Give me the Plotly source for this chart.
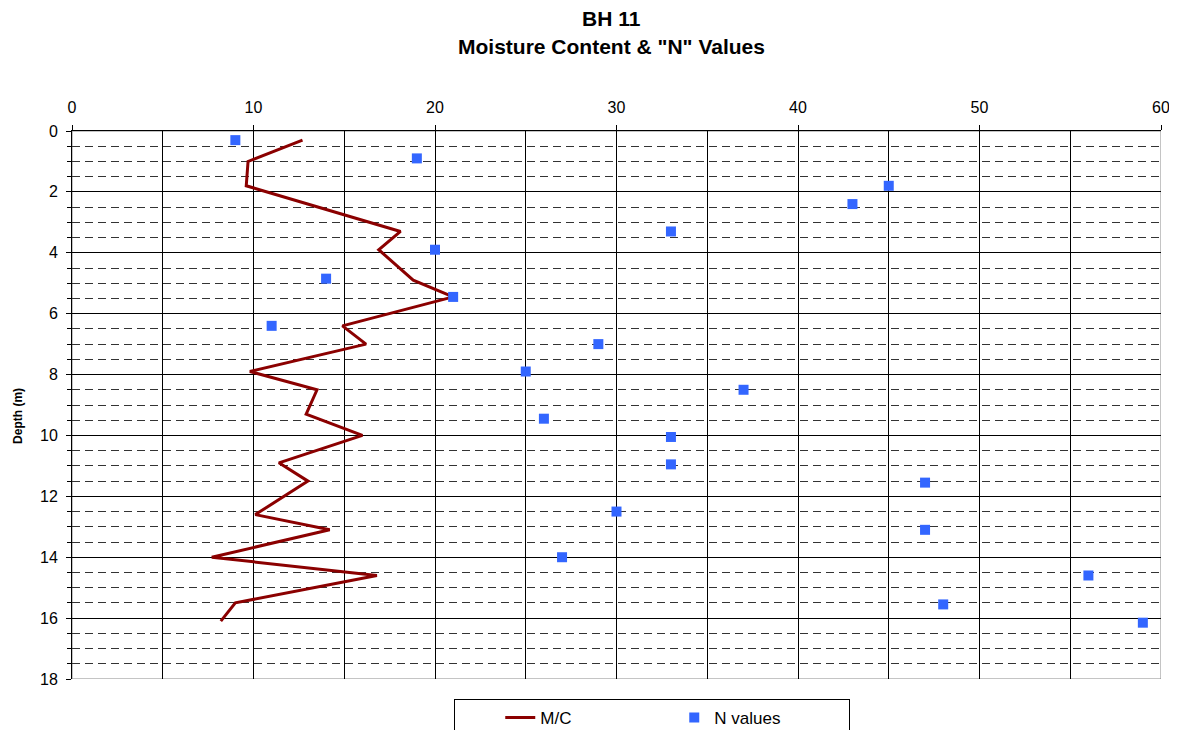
import plotly.graph_objects as go

# Moisture content (M/C) profile
mc_depth = [0.3, 1.0, 1.8, 3.3, 3.9, 4.9, 5.45, 6.4, 7.0, 7.9, 8.5, 9.3, 10.0,
            10.9, 11.5, 12.6, 13.1, 14.0, 14.6, 15.5, 16.1]
mc_value = [12.7, 9.7, 9.6, 18.1, 16.9, 18.8, 21.0, 14.9, 16.2, 9.8, 13.5, 12.9, 16.0,
            11.4, 13.0, 10.1, 14.2, 7.7, 16.8, 9.0, 8.2]

# SPT "N" values
n_depth = [0.3, 0.9, 1.8, 2.4, 3.3, 3.9, 4.85, 5.45, 6.4, 7.0, 7.9, 8.5, 9.45, 10.05,
           10.95, 11.55, 12.5, 13.1, 14.0, 14.6, 15.55, 16.15]
n_value = [9, 19, 45, 43, 33, 20, 14, 21, 11, 29, 25, 37, 26, 33,
           33, 47, 30, 47, 27, 56, 48, 59]

title_line1 = "BH 11"
title_line2 = 'Moisture Content & "N" Values'
y_title = "Depth (m)"

FONT = "Liberation Sans, Arial, sans-serif"

fig = go.Figure()
fig.add_trace(go.Scatter(x=mc_value, y=mc_depth, mode="lines", name="M/C",
                         line=dict(color="#8B0000", width=3)))
fig.add_trace(go.Scatter(x=n_value, y=n_depth, mode="markers", name="N values",
                         marker=dict(symbol="square", size=10, color="#3366FF")))

fig.add_shape(type="rect", xref="x", yref="y", x0=0, x1=60, y0=0, y1=18,
              line=dict(color="#888888", width=1), layer="below")

fig.update_layout(
    width=1169, height=722,
    margin=dict(l=64, r=16, t=123, b=51, autoexpand=False),
    paper_bgcolor="white", plot_bgcolor="white",
    font=dict(family=FONT, size=16, color="black"),
    showlegend=True,
    legend=dict(orientation="h", x=0.351, xanchor="left",
                yref="container", y=0.043, yanchor="top",
                bordercolor="black", borderwidth=1, bgcolor="white",
                font=dict(family=FONT, size=17), entrywidth=129,
                title=dict(text="\u00a0" * 7, font=dict(family=FONT, size=18))),
    annotations=[
        dict(text="<b>" + title_line1 + "</b>", x=0.495, xref="paper", y=1.2044, yref="paper",
             showarrow=False, font=dict(family=FONT, size=21), yanchor="middle"),
        dict(text="<b>" + title_line2 + "</b>", x=0.495, xref="paper", y=1.1542, yref="paper",
             showarrow=False, font=dict(family=FONT, size=21), yanchor="middle"),
        dict(text="<b>" + y_title + "</b>", x=-0.0496, xref="paper", y=0.48, yref="paper",
             textangle=-90, showarrow=False, font=dict(family=FONT, size=12),
             xanchor="center", yanchor="middle"),
    ],
)

fig.update_xaxes(side="top", range=[0, 60], dtick=10, tick0=0, automargin=False,
                 showgrid=True, gridcolor="black", gridwidth=1,
                 showline=True, linecolor="black", linewidth=1,
                 ticks="outside", ticklen=5, tickcolor="black", ticklabelstandoff=6,
                 tickfont=dict(size=16),
                 zeroline=False,
                 minor=dict(dtick=5, showgrid=True, gridcolor="black", gridwidth=1))
fig.update_yaxes(range=[18, 0], dtick=2, tick0=0, automargin=False,
                 showgrid=True, gridcolor="black", gridwidth=1,
                 showline=True, linecolor="black", linewidth=1,
                 ticks="outside", ticklen=5, tickcolor="black", ticklabelstandoff=5,
                 tickfont=dict(size=16),
                 zeroline=False,
                 minor=dict(dtick=0.5, showgrid=True, gridcolor="#333333", gridwidth=1,
                            griddash="8px,5px", ticks="outside", ticklen=4, tickcolor="black"))

fig.write_html("out.html")
